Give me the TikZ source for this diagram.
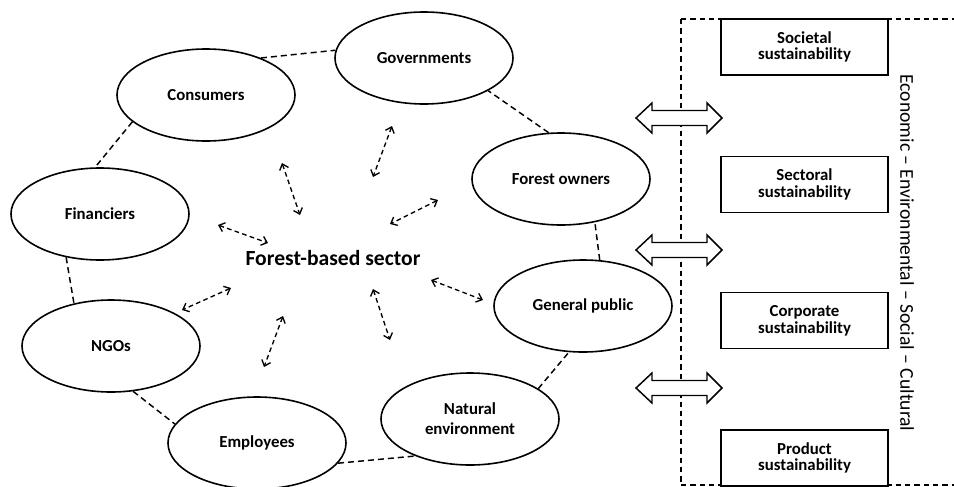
\documentclass[tikz,border=0pt]{standalone}
\usepackage{fontspec}
\setmainfont{Carlito}
\usetikzlibrary{arrows.meta,shapes.geometric}
\begin{document}
\begin{tikzpicture}[x=0.75pt,y=-0.75pt,
 actor/.style={ellipse,draw,line width=1.2pt,minimum width=133.5pt,minimum height=69pt,inner sep=0pt,align=center,font=\bfseries\fontsize{12.6}{15}\selectfont},
 link/.style={line width=1.1pt,dash pattern=on 4.5pt off 3pt},
 flow/.style={line width=1pt,dash pattern=on 3.5pt off 2.5pt,{Straight Barb[length=4pt,width=7pt]}-{Straight Barb[length=4pt,width=7pt]}},
 level/.style={rectangle,draw,fill=white,line width=1.1pt,minimum width=125.25pt,minimum height=42pt,inner sep=0pt,align=center,font=\bfseries\fontsize{12.6}{12.5}\selectfont},
 frame/.style={line width=0.9pt,dash pattern=on 4pt off 3pt},
 blockarrow/.style={draw,fill=white,line width=1.1pt,line join=miter}]
\useasboundingbox (0,0) rectangle (954,486);

% actors
\node[actor] (gov) at (424,58) {Governments};
\node[actor] (cons) at (206,95) {Consumers};
\node[actor] (fin) at (100,214) {Financiers};
\node[actor] (ngo) at (111,346) {NGOs};
\node[actor] (emp) at (257,443) {Employees};
\node[actor] (nat) at (470,419) {Natural\\environment};
\node[actor] (pub) at (583,306) {General public};
\node[actor] (own) at (561,179) {Forest owners};

% ring of dashed links
\draw[link] (cons.34) -- (gov.175);
\draw[link] (cons.200) -- (fin.96);
\draw[link] (fin.232) -- (ngo.131);
\draw[link] (ngo.296) -- (emp.167);
\draw[link] (emp.346) -- (nat.214);
\draw[link] (nat.24) -- (pub.253);
\draw[link] (pub.70) -- (own.308);
\draw[link] (own.105) -- (gov.333);

% centre
\node[font=\bfseries\fontsize{16.2}{18}\selectfont] (sector) at (333,258) {Forest-based sector};

% interaction arrows
\coordinate (c1) at (282,163); \coordinate (c2) at (300,215);
\coordinate (g1) at (392,126); \coordinate (g2) at (373,177);
\coordinate (o1) at (438,200); \coordinate (o2) at (390,224);
\coordinate (f1) at (218,225); \coordinate (f2) at (268,243);
\coordinate (n1) at (231,288); \coordinate (n2) at (182,310);
\coordinate (e1) at (283,316); \coordinate (e2) at (264,367);
\coordinate (v1) at (373,289); \coordinate (v2) at (390,340);
\coordinate (p1) at (431,280); \coordinate (p2) at (483,300);
\draw[flow] (c1) -- (c2);
\draw[flow] (g1) -- (g2);
\draw[flow] (o1) -- (o2);
\draw[flow] (f1) -- (f2);
\draw[flow] (n1) -- (n2);
\draw[flow] (e1) -- (e2);
\draw[flow] (v1) -- (v2);
\draw[flow] (p1) -- (p2);

% dashed frame
\draw[frame] (681,19) -- (681,485);
\draw[frame] (681,19) -- (954,19);
\draw[frame] (681,485) -- (954,485);

% block arrows
\foreach \cy in {118,250,388}{
  \draw[blockarrow] (636,\cy) -- (652,\cy-15) -- (652,\cy-7.5) -- (707,\cy-7.5) -- (707,\cy-15)
    -- (722,\cy) -- (707,\cy+15) -- (707,\cy+7.5) -- (652,\cy+7.5) -- (652,\cy+15) -- cycle;
}

% levels
\node[level] (soc) at (804.5,47) {Societal\\sustainability};
\node[level] (sec) at (804.5,184.5) {Sectoral\\sustainability};
\node[level] (cor) at (804.5,320.5) {Corporate\\sustainability};
\node[level] (pro) at (804.5,458) {Product\\sustainability};

\node[rotate=-90,font=\fontsize{14.7}{16}\selectfont] (dims) at (907,253) {Economic – Environmental – Social – Cultural};
\end{tikzpicture}
\end{document}
